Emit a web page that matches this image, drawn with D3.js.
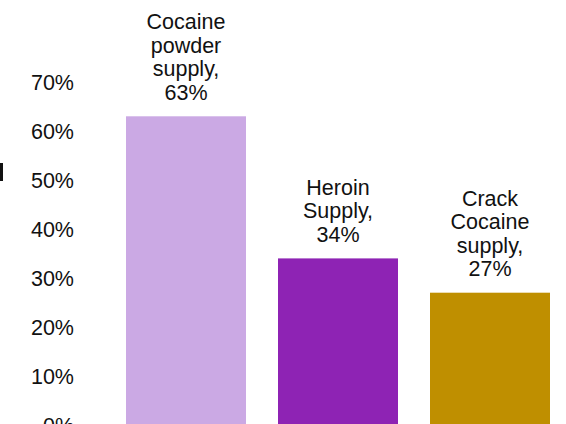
<!DOCTYPE html>
<html><head><meta charset="utf-8">
<script src="https://cdn.jsdelivr.net/npm/d3@7"></script>
<style>html,body{margin:0;padding:0;background:#fff;overflow:hidden}</style>
</head><body><svg id="c" width="566" height="424"></svg>
<script>
const categories = ["Cocaine powder supply", "Heroin Supply", "Crack Cocaine supply"];
const labelLines = [["Cocaine","powder","supply,"],["Heroin","Supply,"],["Crack","Cocaine","supply,"]];
const values = [63, 34, 27];
const colors = ["#CBA9E4", "#8E23B4", "#BF8F00"];
const yTicks = [0, 10, 20, 30, 40, 50, 60, 70];

const svg = d3.select("#c");
const font = "Liberation Sans, Arial, sans-serif";
const y = d3.scaleLinear().domain([0, 70]).range([425, 82]);
const x = d3.scaleBand().domain(categories).range([110, 566]).paddingInner(32/152).paddingOuter(16/152);

// y axis (no line, no ticks)
const yAxis = d3.axisLeft(y).tickValues(yTicks).tickFormat(d => d + "%").tickSize(0).tickPadding(0);
const g = svg.append("g").attr("transform", "translate(74,0)").call(yAxis);
g.select(".domain").remove();
g.selectAll("text").attr("font-family", font).attr("font-size", 21.5).attr("fill", "#111").attr("dy", "0.36em");

// bars
svg.selectAll("rect.bar").data(values).join("rect").attr("class","bar")
  .attr("x", (d,i) => x(categories[i]))
  .attr("width", x.bandwidth())
  .attr("y", d => y(d))
  .attr("height", d => y(0) - y(d))
  .attr("fill", (d,i) => colors[i]);

// labels
const lh = 23.5;
values.forEach((v,i) => {
  const lines = labelLines[i].concat([v + "%"]);
  const cx = x(categories[i]) + x.bandwidth()/2;
  const lastBase = y(v) - 16.5;
  const t = svg.append("text").attr("text-anchor","middle").attr("font-family",font).attr("font-size",21.5).attr("fill","#111");
  lines.forEach((ln, j) => {
    t.append("tspan").attr("x", cx).attr("y", lastBase - (lines.length-1-j)*lh).text(ln);
  });
});

// clipped fragment at left edge
svg.append("rect").attr("x",0).attr("y",163).attr("width",3).attr("height",18).attr("fill","#111");
</script></body></html>
